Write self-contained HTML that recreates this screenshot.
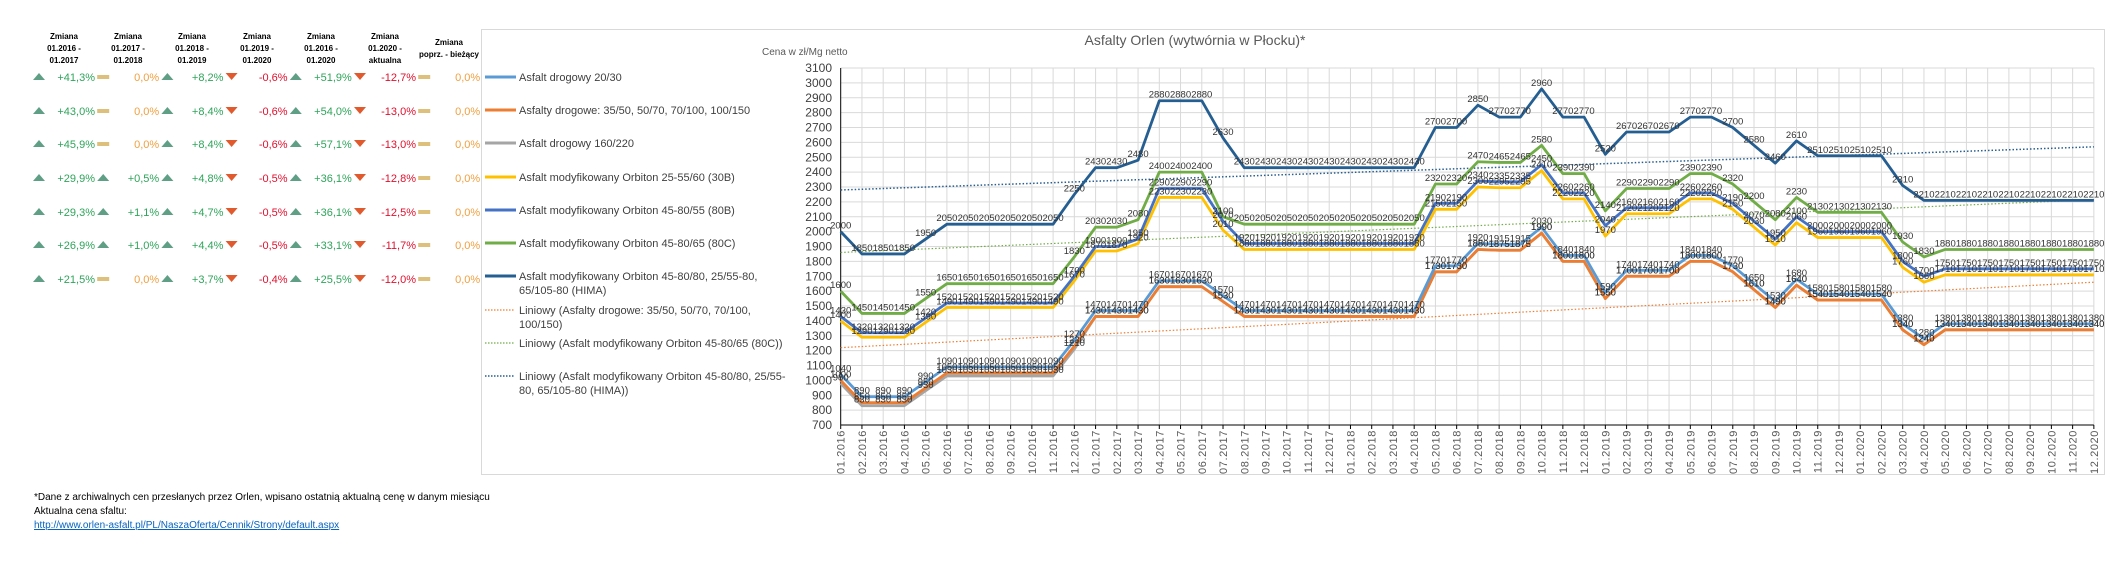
<!DOCTYPE html>
<html><head><meta charset="utf-8"><style>
body{margin:0;width:2128px;height:564px;background:#fff;overflow:hidden;font-family:"Liberation Sans",sans-serif}
svg{position:absolute;left:0;top:0}
</style></head><body>
<svg id="s" width="2128" height="564" xmlns="http://www.w3.org/2000/svg" font-family="Liberation Sans, sans-serif">
<rect x="481.5" y="29.5" width="1623" height="445" fill="#fff" stroke="#d9d9d9"/>
<g id="grid"></g>
<text x="1195" y="45" font-size="14" fill="#595959" text-anchor="middle">Asfalty Orlen (wytwórnia w Płocku)*</text>
<text x="762" y="55" font-size="10" fill="#595959">Cena w zł/Mg netto</text>
<g id="tbl" font-size="11"></g>
<g font-size="8" fill="#000" text-anchor="middle" font-weight="bold">
<text x="64" y="39">Zmiana</text><text x="64" y="51">01.2016 -</text><text x="64" y="63">01.2017</text>
<text x="128" y="39">Zmiana</text><text x="128" y="51">01.2017 -</text><text x="128" y="63">01.2018</text>
<text x="192" y="39">Zmiana</text><text x="192" y="51">01.2018 -</text><text x="192" y="63">01.2019</text>
<text x="257" y="39">Zmiana</text><text x="257" y="51">01.2019 -</text><text x="257" y="63">01.2020</text>
<text x="321" y="39">Zmiana</text><text x="321" y="51">01.2016 -</text><text x="321" y="63">01.2020</text>
<text x="385" y="39">Zmiana</text><text x="385" y="51">01.2020 -</text><text x="385" y="63">aktualna</text>
<text x="449" y="45">Zmiana</text><text x="449" y="57">poprz. - bieżący</text>
</g>
<g font-size="11" fill="#404040">
<line x1="485" y1="77" x2="516" y2="77" stroke="#5b9bd5" stroke-width="3"/><text x="519" y="81">Asfalt drogowy 20/30</text>
<line x1="485" y1="110" x2="516" y2="110" stroke="#ed7d31" stroke-width="3"/><text x="519" y="114">Asfalty drogowe: 35/50, 50/70, 70/100, 100/150</text>
<line x1="485" y1="143" x2="516" y2="143" stroke="#a5a5a5" stroke-width="3"/><text x="519" y="147">Asfalt drogowy 160/220</text>
<line x1="485" y1="177" x2="516" y2="177" stroke="#ffc000" stroke-width="3"/><text x="519" y="181">Asfalt modyfikowany Orbiton 25-55/60 (30B)</text>
<line x1="485" y1="210" x2="516" y2="210" stroke="#4472c4" stroke-width="3"/><text x="519" y="214">Asfalt modyfikowany Orbiton 45-80/55 (80B)</text>
<line x1="485" y1="243" x2="516" y2="243" stroke="#70ad47" stroke-width="3"/><text x="519" y="247">Asfalt modyfikowany Orbiton 45-80/65 (80C)</text>
<line x1="485" y1="276" x2="516" y2="276" stroke="#255e91" stroke-width="3"/><text x="519" y="280">Asfalt modyfikowany Orbiton 45-80/80, 25/55-80,</text><text x="519" y="294">65/105-80 (HIMA)</text>
<line x1="485" y1="310" x2="515" y2="310" stroke="#ed7d31" stroke-width="1.2" stroke-dasharray="1.5,1.5"/><text x="519" y="314">Liniowy (Asfalty drogowe: 35/50, 50/70, 70/100,</text><text x="519" y="328">100/150)</text>
<line x1="485" y1="343" x2="515" y2="343" stroke="#70ad47" stroke-width="1.2" stroke-dasharray="1.5,1.5"/><text x="519" y="347">Liniowy (Asfalt modyfikowany Orbiton 45-80/65 (80C))</text>
<line x1="485" y1="376" x2="515" y2="376" stroke="#255e91" stroke-width="1.5" stroke-dasharray="1.5,1.5"/><text x="519" y="380">Liniowy (Asfalt modyfikowany Orbiton 45-80/80, 25/55-</text><text x="519" y="394">80, 65/105-80 (HIMA))</text>
</g>
<g font-size="10" fill="#000">
<text x="34" y="500">*Dane z archiwalnych cen przesłanych przez Orlen, wpisano ostatnią aktualną cenę w danym miesiącu</text>
<text x="34" y="514">Aktualna cena sfaltu:</text>
<text x="34" y="528" fill="#0563c1" text-decoration="underline">http://www.orlen-asfalt.pl/PL/NaszaOferta/Cennik/Strony/default.aspx</text>
</g>
<g id="series"></g>
</svg>
<script>
const NS="http://www.w3.org/2000/svg";
function el(t,a,p,txt){const e=document.createElementNS(NS,t);for(const k in a)e.setAttribute(k,a[k]);if(txt!==undefined)e.textContent=txt;p.appendChild(e);return e;}
const X0=840.7,DX=21.24,Y0=425,YS=14.875/100;
const xp=i=>X0+i*DX, yp=v=>Y0-(v-700)*YS;
const g=document.getElementById('grid');
for(let v=700;v<=3100;v+=100){const y=yp(v);
 if(v>700)el('line',{x1:X0,x2:xp(59),y1:y,y2:y,stroke:'#d9d9d9','stroke-width':1},g);
 el('text',{x:832,y:y+4,'font-size':12,fill:'#404040','text-anchor':'end'},g,v);}
for(let i=0;i<60;i++){const x=xp(i);
 if(i>0)el('line',{x1:x,x2:x,y1:yp(3100),y2:Y0,stroke:'#d9d9d9'},g);
 el('line',{x1:x,x2:x,y1:Y0,y2:Y0+4,stroke:'#000'},g);
 const m=(i%12)+1,yr=2016+Math.floor(i/12);
 el('text',{x:0,y:0,'font-size':11,fill:'#595959','text-anchor':'end','letter-spacing':'0.6',transform:`translate(${x+4},${Y0+5}) rotate(-90)`},g,(m<10?'0':'')+m+'.'+yr);}
el('line',{x1:X0,x2:X0,y1:yp(3100),y2:Y0,stroke:'#000'},g);
el('line',{x1:X0,x2:xp(59),y1:Y0,y2:Y0,stroke:'#000'},g);
const R=(v,n)=>Array(n).fill(v);
const hima=[2000,1850,1850,1850,1950,...R(2050,6),2250,2430,2430,2480,2880,2880,2880,2630,...R(2430,9),2700,2700,2850,2770,2770,2960,2770,2770,2520,2670,2670,2670,2770,2770,2700,2580,2460,2610,2510,2510,2510,2510,2310,...R(2210,9)];
const c80=[1600,1450,1450,1450,1550,...R(1650,6),1830,2030,2030,2080,2400,2400,2400,2100,...R(2050,9),2320,2320,2470,2465,2465,2580,2390,2390,2140,2290,2290,2290,2390,2390,2320,2200,2080,2230,2130,2130,2130,2130,1930,1830,...R(1880,8)];
const b80=[1430,1320,1320,1320,1420,...R(1520,6),1700,1900,1900,1950,2290,2290,2290,2070,...R(1920,9),2190,2190,2340,2335,2335,2450,2260,2260,2040,2160,2160,2160,2260,2260,2190,2070,1950,2100,2000,2000,2000,2000,1800,1700,...R(1750,8)];
const b30=[1400,1290,1290,1290,1390,...R(1490,6),1670,1870,1870,1920,2230,2230,2230,2010,...R(1880,9),2150,2150,2300,2295,2295,2410,2220,2220,1970,2120,2120,2120,2220,2220,2150,2030,1910,2060,1960,1960,1960,1960,1760,1660,...R(1710,8)];
const a20=[1040,890,890,890,990,...R(1090,6),1270,1470,1470,1470,1670,1670,1670,1570,...R(1470,9),1770,1770,1920,1915,1915,2030,1840,1840,1590,1740,1740,1740,1840,1840,1770,1650,1530,1680,1580,1580,1580,1580,1380,1280,...R(1380,8)];
const o35=[1000,850,850,850,950,...R(1050,6),1230,1430,1430,1430,1630,1630,1630,1530,...R(1430,9),1730,1730,1880,1875,1875,1990,1800,1800,1550,1700,1700,1700,1800,1800,1730,1610,1490,1640,1540,1540,1540,1540,1340,1240,...R(1340,8)];
const g160=o35.map((v,i)=>i<12?v-20:v);
const sg=document.getElementById('series');
function trend(a,b,col,w){el('line',{x1:X0,x2:xp(59),y1:yp(a),y2:yp(b),stroke:col,'stroke-width':w,'stroke-dasharray':'1.5,2'},sg);}
trend(1220,1660,'#ed7d31',1.2);trend(1860,2215,'#70ad47',1.2);trend(2280,2570,'#255e91',1.5);
const S=[[g160,'#a5a5a5'],[o35,'#ed7d31'],[a20,'#5b9bd5'],[b30,'#ffc000'],[b80,'#4472c4'],[c80,'#70ad47'],[hima,'#255e91']];
for(const [d,c] of S){el('polyline',{points:d.map((v,i)=>xp(i)+','+yp(v)).join(' '),fill:'none',stroke:c,'stroke-width':2.8,'stroke-linejoin':'round'},sg);}
for(const [d,c] of S){for(let i=0;i<d.length;i++)el('text',{x:xp(i),y:yp(d[i])-3,'font-size':9.5,fill:'#333','text-anchor':'middle'},sg,d[i]);}
const t=document.getElementById('tbl');
const rows=[["+41,3%","0,0%","+8,2%","-0,6%","+51,9%","-12,7%","0,0%"],["+43,0%","0,0%","+8,4%","-0,6%","+54,0%","-13,0%","0,0%"],["+45,9%","0,0%","+8,4%","-0,6%","+57,1%","-13,0%","0,0%"],["+29,9%","+0,5%","+4,8%","-0,5%","+36,1%","-12,8%","0,0%"],["+29,3%","+1,1%","+4,7%","-0,5%","+36,1%","-12,5%","0,0%"],["+26,9%","+1,0%","+4,4%","-0,5%","+33,1%","-11,7%","0,0%"],["+21,5%","0,0%","+3,7%","-0,4%","+25,5%","-12,0%","0,0%"]];
const ry=[77,111,144,178,212,245,279];
rows.forEach((r,ri)=>{const y=ry[ri];r.forEach((v,ci)=>{const ix=39+ci*64.2,tx=95+ci*64.2;let col;
 if(v[0]=='+'){col='#2ea55a';el('polygon',{points:`${ix-6},${y+3} ${ix+6},${y+3} ${ix},${y-4}`,fill:'#5f9f85'},t);}
 else if(v[0]=='-'){col='#e0102d';el('polygon',{points:`${ix-6},${y-4} ${ix+6},${y-4} ${ix},${y+3}`,fill:'#e05a2e'},t);}
 else{col='#f0a040';el('rect',{x:ix-6,y:y-2,width:12,height:4,fill:'#dcc07c'},t);}
 el('text',{x:tx,y:y+4,fill:col,'text-anchor':'end'},t,v);});});
</script>
</body></html>
